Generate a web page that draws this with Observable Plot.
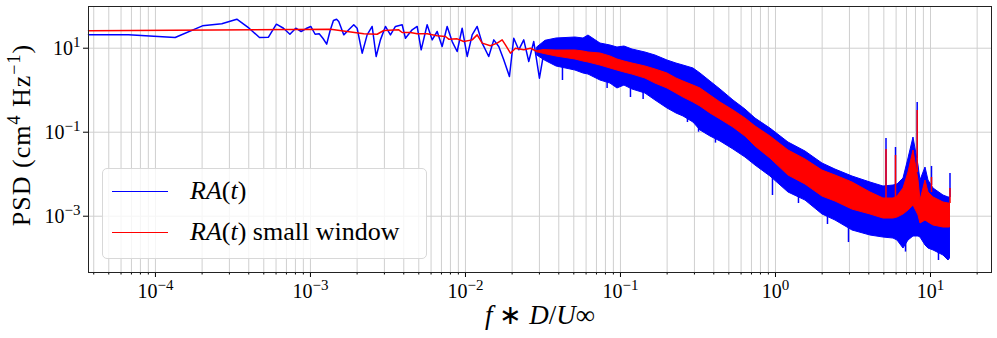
<!DOCTYPE html>
<html>
<head>
<meta charset="utf-8">
<script src="https://cdn.jsdelivr.net/npm/d3@7"></script>
<script src="https://cdn.jsdelivr.net/npm/@observablehq/plot@0.6"></script>
<style>
  body { margin: 0; background: #fff; }
  #wrap { position: relative; width: 997px; height: 338px; font-family: "Liberation Serif", serif; }
  .legend { position: absolute; left: 102px; top: 168px; width: 325px; height: 91px; box-sizing: border-box;
            border: 1px solid #d8d8d8; border-radius: 5px; background: rgba(255,255,255,0.8); }
  .row { position: absolute; left: 0; height: 30px; width: 100%; }
  .swatch { position: absolute; left: 9px; width: 56px; height: 0; top: 15px; border-top: 1.6px solid; }
  .lab { position: absolute; left: 87px; top: 0; line-height: 30px; font-size: 26px; color: #000; white-space: nowrap;
         font-family: "Liberation Serif", serif; }
</style>
</head>
<body>
<div id="wrap"></div>
<script>
const FONT = '"Liberation Serif", serif';
// ---------- data ----------
// RA(t): full-resolution spectrum, resolved part (f = 0 is the DC bin)
const blueF = [0, 6.7e-5, 1.34e-4, 2.01e-4, 2.68e-4, 3.35e-4, 4.02e-4, 4.69e-4, 5.36e-4, 6.03e-4, 6.70e-4,
  7.37e-4, 8.04e-4, 8.71e-4, 9.38e-4, 1.005e-3, 1.072e-3, 1.139e-3, 1.206e-3, 1.273e-3, 1.340e-3, 1.407e-3,
  1.474e-3, 1.523e-3, 1.640e-3, 1.766e-3, 1.903e-3, 2.001e-3, 2.156e-3, 2.321e-3, 2.501e-3, 2.654e-3, 2.828e-3,
  3.047e-3, 3.282e-3, 3.535e-3, 3.905e-3, 4.101e-3, 4.53e-3, 4.88e-3, 5.18e-3, 5.66e-3, 6.10e-3, 6.57e-3,
  7.07e-3, 7.62e-3, 8.21e-3, 8.84e-3, 9.52e-3, 1.026e-2, 1.105e-2, 1.190e-2, 1.282e-2, 1.413e-2, 1.523e-2,
  1.640e-2, 1.766e-2, 1.922e-2, 2.049e-2, 2.207e-2, 2.377e-2, 2.561e-2, 2.758e-2, 3.001e-2, 3.281e-2,
  3.535e-2, 3.905e-2];
const blueV = [20.8, 20.8, 18.0, 34.1, 38.1, 49.0, 29.9, 18.0, 18.3, 37.3, 29.9, 21.5, 29.9, 25.0, 29.4,
  32.9, 21.5, 22.0, 17.0, 12.5, 26.4, 45.7, 49.0, 43.2, 20.8, 27.4, 36.1, 29.9, 7.60, 20.8, 32.9, 6.35,
  15.8, 32.9, 20.8, 32.9, 36.1, 17.3, 27.4, 32.9, 9.16, 36.1, 15.8, 25.0, 11.0, 32.9, 14.4, 8.35, 29.9,
  6.35, 20.8, 32.9, 13.2, 6.35, 15.8, 11.0, 5.29, 2.12, 17.3, 9.16, 15.8, 4.82, 14.4, 1.93, 13.2, 6.35, 13.2];

// RA(t) small window: resolved part
const redF = [0, 1.35e-3, 1.725e-3, 2.207e-3, 2.693e-3, 2.971e-3, 3.713e-3, 3.905e-3, 4.417e-3, 4.88e-3,
  5.66e-3, 6.57e-3, 7.43e-3, 7.80e-3, 8.84e-3, 9.75e-3, 1.105e-2, 1.190e-2, 1.282e-2, 1.449e-2, 1.601e-2,
  1.725e-2, 1.811e-2, 1.951e-2, 2.102e-2, 2.377e-2, 2.627e-2, 2.902e-2, 3.201e-2, 3.535e-2];
const redV = [26.0, 28.3, 25.0, 22.0, 21.5, 26.4, 27.4, 23.7, 23.7, 22.0, 22.0, 19.7, 19.0, 16.4, 16.7,
  14.4, 15.8, 20.8, 13.2, 11.4, 13.2, 15.8, 12.05, 7.60, 10.0, 9.16, 10.0, 8.35, 9.16, 7.60];

// Dense high-frequency part: envelope of the fluctuating spectra
const bandF = [0.02902, 0.03281, 0.03866, 0.05125, 0.05772, 0.06216, 0.07430, 0.08619, 0.09563, 0.1061, 0.1195,
  0.1449, 0.1682, 0.2010, 0.2297, 0.2549, 0.2958, 0.3281, 0.3807, 0.4416, 0.5358, 0.6403, 0.7430, 0.9284,
  1.213, 1.562, 2.010, 2.438, 3.139, 4.102, 4.975, 5.771, 6.125, 6.697, 7.213, 7.768, 8.369, 8.619, 9.284,
  9.707, 10.46, 12.13, 13.07, 13.36];
const blueHi = [10.4, 15.0, 17.02, 17.98, 17.02, 20.07, 12.94, 11.60, 10.39, 10.98, 9.31, 7.90, 6.70, 5.10, 4.32,
  3.87, 3.29, 2.50, 1.61, 1.04, 0.569, 0.347, 0.212, 0.122, 0.0569, 0.0347, 0.0180, 0.0129, 0.00881, 0.00634,
  0.00509, 0.00538, 0.00569, 0.00790, 0.0236, 0.0748, 0.0161, 0.00708, 0.01445, 0.00708, 0.00457, 0.00311,
  0.00279, 0.00279];
const blueLo = [6.7, 5.0, 3.67, 2.94, 2.50, 2.36, 1.70, 1.44, 1.10, 1.29, 1.04, 0.834, 0.569, 0.367, 0.279, 0.237,
  0.170, 0.110, 0.0790, 0.0601, 0.0387, 0.0250, 0.0161, 0.00881, 0.00367, 0.00236, 0.00110, 0.000790,
  0.000457, 0.000347, 0.000311, 0.000294, 0.000264, 0.000170, 0.000264, 0.000329, 0.000329, 0.000311,
  0.000201, 0.000170, 0.000153, 0.000116, 0.0000881, 0.0000984];
const redHi = [8.6, 9.0, 8.81, 8.81, 8.35, 7.90, 7.48, 6.35, 5.38, 4.82, 4.32, 3.67, 3.11, 2.50, 1.90, 1.61, 1.29,
  1.10, 0.748, 0.509, 0.329, 0.212, 0.137, 0.0790, 0.0367, 0.0224, 0.0122, 0.00931, 0.00634, 0.00367, 0.00264,
  0.00264, 0.00294, 0.00457, 0.0110, 0.0367, 0.00708, 0.00236, 0.00708, 0.00367, 0.00279, 0.00212, 0.00201,
  0.00201];
const redLo = [8.0, 7.2, 6.35, 5.38, 4.82, 4.57, 3.87, 3.29, 2.94, 2.64, 2.36, 1.90, 1.44, 1.10, 0.834, 0.670,
  0.509, 0.409, 0.279, 0.201, 0.129, 0.0790, 0.0457, 0.0236, 0.00931, 0.00569, 0.00294, 0.00224, 0.00144,
  0.00110, 0.000881, 0.000881, 0.000931, 0.00110, 0.00137, 0.00180, 0.00104, 0.000670, 0.000790, 0.000708,
  0.000601, 0.000538, 0.000538, 0.000538];

// Narrow tonal peaks
const peakF = [5.164, 5.946, 8.207, 10.15, 13.36];
const peakBaseBlue = [0.00509, 0.00538, 0.0236, 0.00538, 0.00279];
const peakBlue = [0.0708, 0.0432, 0.509, 0.0153, 0.0104];
const peakBaseRed = [0.00264, 0.00264, 0.0110, 0.00367, 0.00201];
const peakRed = [0.0387, 0.0279, 0.329, 0.00834, 0.00457];

// Deep downward excursions of RA(t)
const dipF = [0.04225, 0.0820, 0.1160, 0.1400, 0.2705, 0.3190, 0.4100, 0.9564, 1.407, 2.165, 2.958, 6.9, 11.26];
const dipTop = [3.67, 1.60, 1.10, 0.90, 0.237, 0.140, 0.080, 0.00881, 0.00311, 0.00104, 0.000509, 0.00025, 0.000153];
const dipBottom = [1.70, 1.10, 0.670, 0.60, 0.170, 0.100, 0.055, 0.00311, 0.00201, 0.000634, 0.000236, 0.00014, 0.0000881];

// Axes
const xDomain = [3.70e-5, 24.75];
const yDomain = [4.57e-5, 98.4];
const xTicks = [1e-4, 1e-3, 1e-2, 1e-1, 1e0, 1e1];
const xTickLabels = ["10^\u22124", "10^\u22123", "10^\u22122", "10^\u22121", "10^0", "10^1"];
const yTicks = [1e-3, 1e-1, 1e1];
const yTickLabels = ["10^\u22123", "10^\u22121", "10^1"];
const xMinor = [];
for (let e = -5; e <= 1; e++) for (let m = 2; m <= 9; m++) {
  const v = m * Math.pow(10, e);
  if (v >= xDomain[0] && v <= xDomain[1]) xMinor.push(v);
}

// ---------- tables ----------
const dc = xDomain[0]; // DC bin drawn at the left edge of the log axis
const blueRows = blueF.map((f, i) => ({f: f > 0 ? f : dc, v: blueV[i]}));
const redRows = redF.map((f, i) => ({f: f > 0 ? f : dc, v: redV[i]}));
const bandRows = bandF.map((f, i) => ({f, bHi: blueHi[i], bLo: blueLo[i], rHi: redHi[i], rLo: redLo[i]}));
const peakRows = peakF.map((f, i) => ({f, bb: peakBaseBlue[i], bt: peakBlue[i], rb: peakBaseRed[i], rt: peakRed[i]}));
const dipRows = dipF.map((f, i) => ({f, t: dipTop[i], b: dipBottom[i]}));

const BLUE = "#0000ff", RED = "#ff0000";

const chart = Plot.plot({
  width: 997, height: 338,
  marginLeft: 88, marginRight: 6, marginTop: 6, marginBottom: 66,
  x: {type: "log", domain: xDomain},
  y: {type: "log", domain: yDomain},
  style: {fontFamily: FONT, fontSize: "20px", color: "#000", background: "transparent"},
  marks: [
    Plot.gridX([...xTicks, ...xMinor], {stroke: "#cfcfcf", strokeOpacity: 1, strokeWidth: 1}),
    Plot.gridY(yTicks, {stroke: "#cfcfcf", strokeOpacity: 1, strokeWidth: 1}),
    Plot.line(blueRows, {x: "f", y: "v", stroke: BLUE, strokeWidth: 1.5}),
    Plot.areaY(bandRows, {x: "f", y1: "bLo", y2: "bHi", fill: BLUE, stroke: BLUE, strokeWidth: 1}),
    Plot.ruleX(dipRows, {x: "f", y1: "t", y2: "b", stroke: BLUE, strokeWidth: 1.5}),
    Plot.ruleX(peakRows, {x: "f", y1: "bb", y2: "bt", stroke: BLUE, strokeWidth: 1.5}),
    Plot.line(redRows, {x: "f", y: "v", stroke: RED, strokeWidth: 1.5}),
    Plot.areaY(bandRows, {x: "f", y1: "rLo", y2: "rHi", fill: RED, stroke: RED, strokeWidth: 1}),
    Plot.ruleX(peakRows, {x: "f", y1: "rb", y2: "rt", stroke: RED, strokeWidth: 1.5}),
    Plot.axisX({ticks: xMinor, tickSize: 2.5, tickFormat: () => "", label: null}),
    Plot.axisX({ticks: xTicks, tickSize: 5, tickPadding: 6, label: null,
      tickFormat: d => xTickLabels[xTicks.indexOf(d)]}),
    Plot.axisY({ticks: yTicks, tickSize: 5, tickPadding: 3, label: null,
      tickFormat: d => yTickLabels[yTicks.indexOf(d)]}),
    Plot.frame({stroke: "#222", strokeWidth: 1})
  ]
});

const svg = d3.select(chart);
svg.style("font-family", FONT);

// superscript exponents in tick labels
svg.selectAll("text").each(function () {
  const t = this.textContent;
  if (t && t.includes("^")) {
    const [base, exp] = t.split("^");
    const sel = d3.select(this);
    sel.style("font-family", FONT);
    sel.text(base);
    sel.append("tspan").attr("dy", "-8px").attr("font-size", "15px").text(exp);
  }
});

// axis titles
const xl = svg.append("text").attr("x", 540).attr("y", 324).attr("text-anchor", "middle")
  .attr("font-size", "27px").style("font-family", FONT).attr("fill", "#000");
xl.append("tspan").attr("font-style", "italic").text("f");
xl.append("tspan").text(" \u2217 ");
xl.append("tspan").attr("font-style", "italic").text("D");
xl.append("tspan").text("/");
xl.append("tspan").attr("font-style", "italic").text("U");
xl.append("tspan").text("\u221e");

const yl = svg.append("text").attr("transform", "translate(30,135) rotate(-90)").attr("text-anchor", "middle")
  .attr("font-size", "26px").style("font-family", FONT).attr("fill", "#000")
  .attr("letter-spacing", "1px");
yl.append("tspan").text("PSD (cm");
yl.append("tspan").attr("dy", "-10px").attr("font-size", "18px").text("4");
yl.append("tspan").attr("dy", "10px").text(" Hz");
yl.append("tspan").attr("dy", "-10px").attr("font-size", "18px").text("\u22121");
yl.append("tspan").attr("dy", "10px").text(")");

const wrap = document.getElementById("wrap");
wrap.appendChild(chart);

// legend
const legend = document.createElement("div");
legend.className = "legend";
legend.innerHTML =
  '<div class="row" style="top:7px"><div class="swatch" style="border-color:' + BLUE + '"></div>' +
  '<div class="lab"><i>RA</i>(<i>t</i>)</div></div>' +
  '<div class="row" style="top:48px"><div class="swatch" style="border-color:' + RED + '"></div>' +
  '<div class="lab"><i>RA</i>(<i>t</i>) small window</div></div>';
wrap.appendChild(legend);
chart.style.position = "absolute";
chart.style.left = "0";
chart.style.top = "0";
</script>
</body>
</html>
